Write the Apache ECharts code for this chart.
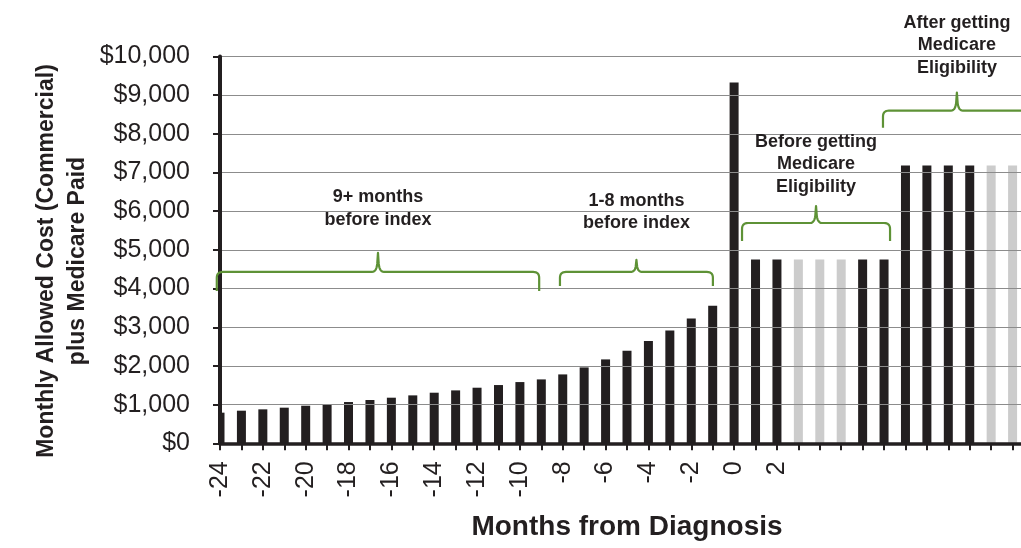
<!DOCTYPE html>
<html>
<head>
<meta charset="utf-8">
<script src="https://cdn.jsdelivr.net/npm/echarts@6/dist/echarts.min.js"></script>
<style>
  html, body { margin: 0; padding: 0; background: #ffffff; }
  #chart { width: 1021px; height: 548px; }
</style>
</head>
<body>
<div id="chart"></div>
<script>
// ---- Data ----
const months = [-24, -23, -22, -21, -20, -19, -18, -17, -16, -15, -14, -13, -12, -11, -10,
  -9, -8, -7, -6, -5, -4, -3, -2, -1, 0, 1, 2, 3, 4, 5, 6, 7, 8, 9, 10, 11, 12, 13, 14];
const costs = [792, 843, 878, 921, 972, 1015, 1067, 1119, 1179, 1239, 1308, 1368, 1437, 1506, 1583,
  1652, 1781, 1962, 2169, 2392, 2642, 2917, 3227, 3554, 9329,
  4750, 4750, 4750, 4750, 4750, 4750, 4750,
  7180, 7180, 7180, 7180, 7180, 7180, null];
const grayMonths = [3, 4, 5, 12, 13];
const tickLabels = ['-24', '-22', '-20', '-18', '-16', '-14', '-12', '-10', '-8', '-6', '-4', '-2', '0', '2'];
const yTicks = [0, 1000, 2000, 3000, 4000, 5000, 6000, 7000, 8000, 9000, 10000];

const yAxisTitle = ['Monthly Allowed Cost (Commercial)', 'plus Medicare Paid'];
const xAxisTitle = 'Months from Diagnosis';

// Brace annotations (month span, brace height value, label centre value)
const braceLabels = [
  ['9+ months', 'before index'],
  ['1-8 months', 'before index'],
  ['Before getting', 'Medicare', 'Eligibility'],
  ['After getting', 'Medicare', 'Eligibility']
];
const braceFrom = [-24.15, -8.13, 0.37, 6.95];
const braceTo = [-9.1, -0.99, 7.28, 13.85];
const braceValue = [4430, 4430, 5695, 8600];
const braceLabelValue = [6070, 5980, 7208, 10284];

// ---- Chart ----
const FONT = '"Liberation Sans", Arial, sans-serif';
const INK = '#231f20';
const GREEN = '#5e9236';
const BAR_W = 9;

const chart = echarts.init(document.getElementById('chart'), null, { renderer: 'canvas' });

function renderBar(params, api) {
  const v = api.value(1);
  if (v == null || isNaN(v)) return null;
  const idx = api.value(0);
  const top = api.coord([idx, v]);
  const base = api.coord([idx, 0]);
  const cs = params.coordSys;
  const rect = echarts.graphic.clipRectByRect(
    { x: top[0] - BAR_W / 2, y: top[1], width: BAR_W, height: base[1] - top[1] },
    { x: cs.x, y: cs.y, width: cs.width, height: cs.height }
  );
  if (!rect) return null;
  return {
    type: 'rect',
    shape: rect,
    style: { fill: grayMonths.includes(months[params.dataIndex]) ? '#cccccc' : INK }
  };
}

const option = {
  animation: false,
  backgroundColor: '#ffffff',
  textStyle: { fontFamily: FONT },
  grid: {
    left: 220, right: -13, top: 56.5, bottom: 104.7,
    containLabel: false,
    outerBoundsMode: 'none'
  },
  xAxis: {
    type: 'category',
    data: months.map(String),
    boundaryGap: false,
    z: 5,
    axisLine: { show: true, onZero: false, lineStyle: { color: INK, width: 3.5 } },
    axisTick: { show: true, interval: 0, length: 7, lineStyle: { color: INK, width: 2 } },
    axisLabel: {
      interval: 0,
      rotate: 90,
      margin: 18,
      fontSize: 25,
      color: INK,
      fontFamily: FONT,
      formatter: v => tickLabels.includes(v) ? v : ''
    },
    splitLine: { show: false },
    name: xAxisTitle,
    nameLocation: 'middle',
    nameGap: 70,
    nameTextStyle: { fontSize: 28, fontWeight: 'bold', color: INK, fontFamily: FONT }
  },
  yAxis: {
    type: 'value',
    min: yTicks[0],
    max: yTicks[yTicks.length - 1],
    interval: 1000,
    z: 5,
    axisLine: { show: true, lineStyle: { color: INK, width: 4 } },
    axisTick: { show: true, length: 7, lineStyle: { color: INK, width: 2 } },
    axisLabel: {
      margin: 30,
      fontSize: 25,
      color: INK,
      fontFamily: FONT,
      formatter: v => '$' + Number(v).toLocaleString('en-US')
    },
    splitLine: { show: true, lineStyle: { color: '#8c8c8c', width: 1 } }
  },
  series: [{
    type: 'custom',
    renderItem: renderBar,
    data: costs.map((c, i) => [i, c]),
    encode: { x: 0, y: 1 },
    z: 2
  }]
};

chart.setOption(option);

// ---- Annotations positioned through the chart's own scales ----
function xPix(month) {
  const i = month - months[0];
  const p0 = chart.convertToPixel({ xAxisIndex: 0 }, 0);
  const p1 = chart.convertToPixel({ xAxisIndex: 0 }, 1);
  return p0 + (p1 - p0) * i;
}
function yPix(v) {
  return chart.convertToPixel({ yAxisIndex: 0 }, v);
}
function quad(a, c, b, n) {
  const pts = [];
  for (let k = 1; k <= n; k++) {
    const t = k / n;
    const x = (1 - t) * (1 - t) * a[0] + 2 * (1 - t) * t * c[0] + t * t * b[0];
    const y = (1 - t) * (1 - t) * a[1] + 2 * (1 - t) * t * c[1] + t * t * b[1];
    pts.push([x, y]);
  }
  return pts;
}
function bracePoints(x0, x1, y, drop, tip) {
  const r = 6, tr = 6;
  const xm = (x0 + x1) / 2;
  let pts = [[x0, y + drop], [x0, y + r]];
  pts = pts.concat(quad([x0, y + r], [x0, y], [x0 + r, y], 8));
  pts.push([xm - tr, y]);
  pts = pts.concat(quad([xm - tr, y], [xm - 1, y], [xm - 0.6, y - tip * 0.55], 8));
  pts.push([xm, y - tip]);
  pts.push([xm + 0.6, y - tip * 0.55]);
  pts = pts.concat(quad([xm + 0.6, y - tip * 0.55], [xm + 1, y], [xm + tr, y], 8));
  pts.push([x1 - r, y]);
  pts = pts.concat(quad([x1 - r, y], [x1, y], [x1, y + r], 8));
  pts.push([x1, y + drop]);
  return pts;
}

const braceDrop = [19, 14, 18, 17];
const braceTip = [19, 12, 17, 18];
const elements = [];
for (let b = 0; b < braceLabels.length; b++) {
  const x0 = xPix(braceFrom[b]);
  const x1 = xPix(braceTo[b]);
  const y = yPix(braceValue[b]);
  elements.push({
    type: 'polyline',
    silent: true,
    shape: { points: bracePoints(x0, x1, y, braceDrop[b], braceTip[b]) },
    style: { stroke: GREEN, lineWidth: 2.2, fill: null, lineJoin: 'round' },
    z: 10
  });
  elements.push({
    type: 'text',
    silent: true,
    x: (x0 + x1) / 2,
    y: yPix(braceLabelValue[b]),
    style: {
      text: braceLabels[b].join('\n'),
      font: 'bold 18px ' + FONT,
      fill: INK,
      align: 'center',
      verticalAlign: 'middle',
      lineHeight: 22.5
    },
    z: 10
  });
}
// Y axis title (two lines, rotated)
elements.push({
  type: 'text',
  silent: true,
  x: 62.5,
  y: 261,
  rotation: Math.PI / 2,
  style: {
    text: yAxisTitle.join('\n'),
    font: 'bold 23px ' + FONT,
    fill: INK,
    align: 'center',
    verticalAlign: 'middle',
    lineHeight: 31
  },
  z: 10
});

chart.setOption({ graphic: { elements: elements } });
</script>
</body>
</html>
